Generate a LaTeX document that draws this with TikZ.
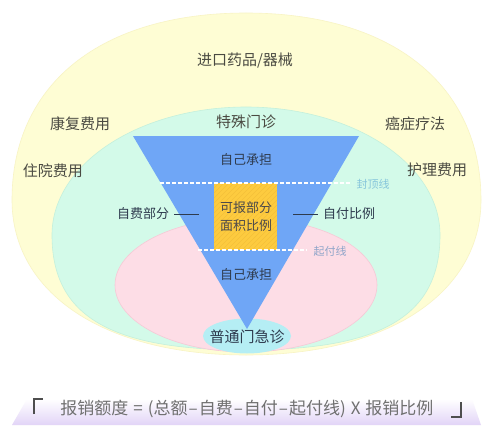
\documentclass[tikz,border=0pt]{standalone}
\usepackage{fontspec}
\setmainfont{Noto Sans CJK SC}
\definecolor{yel}{HTML}{FEFDD4}
\definecolor{yelb}{HTML}{F8F4C4}
\definecolor{mint}{HTML}{D3FAE9}
\definecolor{mintb}{HTML}{C4F0DC}
\definecolor{pnk}{HTML}{FDDDE6}
\definecolor{pnkb}{HTML}{F6C9D6}
\definecolor{cyn}{HTML}{B5EEF4}
\definecolor{blu}{HTML}{6FA6F6}
\definecolor{gold}{HTML}{FDCB3F}
\definecolor{goldh}{HTML}{F4C03A}
\definecolor{outer}{HTML}{4A4A42}
\definecolor{inner}{HTML}{2E3B4E}
\definecolor{capc}{HTML}{86C5DB}
\definecolor{startc}{HTML}{8FA5C9}
\definecolor{purp}{HTML}{E2D4F7}
\definecolor{formc}{HTML}{707070}
\tikzset{
  outerlbl/.style={text=outer, font=\fontsize{15}{18}\selectfont, inner sep=0pt},
  innerlbl/.style={text=inner, font=\fontsize{13}{16}\selectfont, inner sep=0pt},
  smalllbl/.style={font=\fontsize{11}{13}\selectfont, inner sep=0pt},
  dashline/.style={white, line width=1.1pt, dash pattern=on 3.5pt off 2.5pt},
  tick/.style={inner, line width=0.8pt},
  bracket/.style={draw=formc!70!black, line width=1.8pt}
}
\newcommand{\fgap}{\hspace{5pt}}
\newcommand{\fdash}{\hspace{1pt}–\hspace{1pt}}
\begin{document}
\begin{tikzpicture}[x=1pt,y=-1pt]
\useasboundingbox (0,0) rectangle (493,436);
\fill[white] (0,0) rectangle (493,436);
% outer yellow region
\filldraw[fill=yel, draw=yelb, line width=0.6pt]
  (12,200) .. controls (12,84) and (101,13) .. (246,13)
  .. controls (391,13) and (481,84) .. (481,200)
  .. controls (481,293) and (388,355) .. (246,355)
  .. controls (104,355) and (12,293) .. (12,200) -- cycle;
% mint region
\filldraw[fill=mint, draw=mintb, line width=0.6pt]
  (52,235) .. controls (52,164) and (139,107) .. (246,107)
  .. controls (353,107) and (440,164) .. (440,235)
  .. controls (440,316) and (382,350) .. (246,350)
  .. controls (110,350) and (52,316) .. (52,235) -- cycle;
% pink region
\filldraw[fill=pnk, draw=pnkb, line width=0.6pt] (246,285) ellipse [x radius=131pt, y radius=67pt];
% cyan small region
\fill[cyn] (247,336) ellipse [x radius=44pt, y radius=17.5pt];
% funnel
\fill[blu] (133,136) -- (359,136) -- (247,329) -- cycle;
% reimbursable box
\fill[gold] (214,183) rectangle (277,250);
\begin{scope}
  \clip (214,183) rectangle (277,250);
  \foreach \a in {147,152,...,277} \draw[goldh, line width=0.5pt] (\a,250) -- (\a+67,183);
\end{scope}
% dashed lines
\coordinate (capL) at (160,183);
\coordinate (capR) at (352,183);
\coordinate (stL) at (198,250);
\coordinate (stR) at (307,250);
\draw[dashline] (capL) -- (capR);
\draw[dashline] (stL) -- (stR);
% labels
\node[outerlbl] (imp) at (245,61) {进口药品/器械};
\node[outerlbl] (spec) at (246,122) {特殊门诊};
\node[outerlbl] (rehab) at (80,124) {康复费用};
\node[outerlbl] (cancer) at (415,124) {癌症疗法};
\node[outerlbl] (hosp) at (53,171) {住院费用};
\node[outerlbl] (nurse) at (437,170) {护理费用};
\node[innerlbl] (self1) at (246,160) {自己承担};
\node[innerlbl] (self2) at (246,275) {自己承担};
\node[innerlbl, align=center, text=inner!80!brown] (reimb) at (246,217) {可报部分\\[2pt]面积比例};
\node[innerlbl] (selfpay) at (143,214) {自费部分};
\node[innerlbl] (copay) at (349,214) {自付比例};
\node[outerlbl, text=inner] (general) at (247,337) {普通门急诊};
\node[smalllbl, text=capc] (cap) at (373,184) {封顶线};
\node[smalllbl, text=startc] (start) at (330,251) {起付线};
\coordinate (selfpayEnd) at (199,214);
\coordinate (copayEnd) at (293,214);
\draw[tick] ([xshift=5pt]selfpay.east) -- (selfpayEnd);
\draw[tick] ([xshift=-5pt]copay.west) -- (copayEnd);
% formula banner
\shade[top color=white, bottom color=purp] (27,399) -- (472,399) -- (481,425) -- (12,425) -- cycle;
\node[text=formc, font=\fontsize{17}{20}\selectfont, inner sep=0pt] (formula) at (247,409)
  {报销额度\fgap=\fgap(总额\fdash 自费\fdash 自付\fdash 起付线)\fgap X\fgap 报销比例};
\coordinate (lbA) at (34,414);
\coordinate (lbB) at (34,399);
\coordinate (lbC) at (43,399);
\coordinate (rbA) at (461,402);
\coordinate (rbB) at (461,417);
\coordinate (rbC) at (451,417);
\draw[bracket] (lbA) -- (lbB) -- (lbC);
\draw[bracket] (rbA) -- (rbB) -- (rbC);
\end{tikzpicture}
\end{document}
